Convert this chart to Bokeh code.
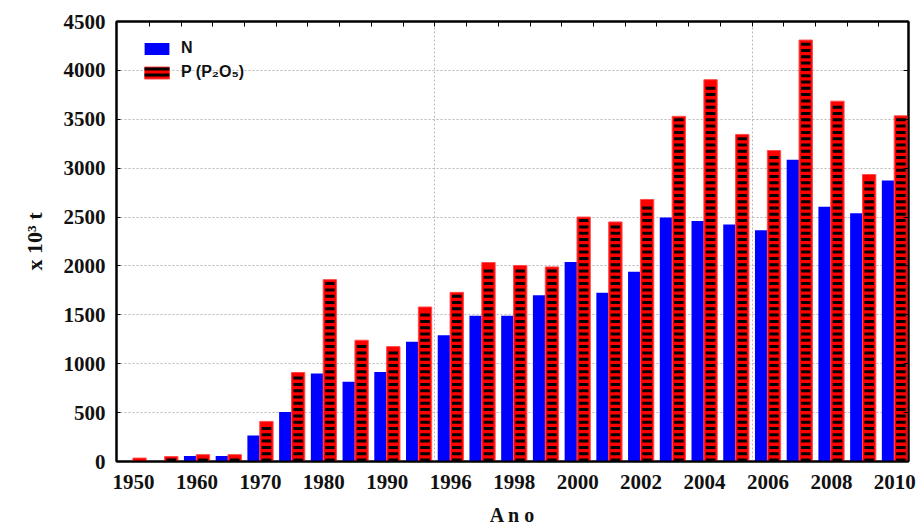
from bokeh.plotting import figure
from bokeh.models import (ColumnDataSource, FixedTicker, LinearAxis, Range1d,
                          Legend, LegendItem)
from bokeh.embed import file_html
from bokeh.resources import INLINE

# ---------------- data ----------------
years = ["1950", "1955", "1960", "1965", "1970", "1975", "1980", "1985", "1990",
         "1995", "1996", "1997", "1998", "1999", "2000", "2001", "2002", "2003",
         "2004", "2005", "2006", "2007", "2008", "2009", "2010"]
n_vals = [0, 0, 55, 55, 265, 505, 900, 815, 915,
          1225, 1290, 1490, 1490, 1700, 2040, 1725, 1940, 2495,
          2460, 2425, 2365, 3085, 2605, 2540, 2875]
p_vals = [35, 50, 70, 70, 410, 910, 1860, 1240, 1175,
          1580, 1730, 2035, 2005, 1990, 2500, 2450, 2680, 3530,
          3905, 3345, 3180, 4310, 3685, 2935, 3535]
label_years = ["1950", "1960", "1970", "1980", "1990", "1996", "1998", "2000",
               "2002", "2004", "2006", "2008", "2010"]
grid_after = ["1995", "2005"]
y_ticks = [0, 500, 1000, 1500, 2000, 2500, 3000, 3500, 4000, 4500]
series_names = ["N", "P (P\u2082O\u2085)"]

# ---------------- layout constants ----------------
FRAME_W, FRAME_H = 792, 440
Y_MAX = 4500
px = Y_MAX / FRAME_H          # data units per screen pixel (vertical)
period, thick, top_gap = 6.3 * px, 3.0 * px, 1.5 * px

# ---------------- sources ----------------
idx = list(range(len(years)))
src = ColumnDataSource(dict(
    xn=[i - 0.215 for i in idx],
    xp=[i + 0.19 for i in idx],
    n=n_vals, p=p_vals))

# black dashes inside the P bars (pattern fill), derived from p_vals
dx, dy = [], []
for i, v in zip(idx, p_vals):
    k = 0
    while True:
        c = k * period + thick / 2
        if c + thick / 2 > v - top_gap:
            break
        dx.append(i + 0.19)
        dy.append(c)
        k += 1
dash_src = ColumnDataSource(dict(x=dx, y=dy))

p = figure(frame_width=FRAME_W, frame_height=FRAME_H,
           x_range=Range1d(-0.536, 24.43), y_range=Range1d(0, Y_MAX),
           output_backend="svg", toolbar_location=None,
           min_border_left=116, min_border_right=15,
           min_border_top=21, min_border_bottom=71,
           background_fill_color="white", border_fill_color="white")

rn = p.vbar(x="xn", top="n", width=0.39, source=src,
            fill_color="#0000ff", line_color=None)
rp = p.vbar(x="xp", top="p", width=0.42, source=src,
            fill_color="#ff0000", line_color="#ff4a4a", line_width=1)
p.rect(x="x", y="y", width=0.30, height=thick, source=dash_src,
       fill_color="black", line_color=None)
# zero-height striped bars: only give the legend swatch its striped look
rh = p.vbar(x="xp", top=0, width=0.30, source=src, fill_alpha=0, line_color=None,
            hatch_pattern="horizontal_line", hatch_color="black",
            hatch_weight=3, hatch_scale=6)

# grids
p.xgrid.ticker = FixedTicker(ticks=[years.index(y) + 0.5 for y in grid_after])
p.ygrid.ticker = FixedTicker(ticks=y_ticks[1:-1])
for g in (p.xgrid, p.ygrid):
    g.grid_line_color = "#b8b8b8"
    g.grid_line_dash = "2 2"
    g.grid_line_width = 1

p.outline_line_color = "black"
p.outline_line_width = 2

serif = "Liberation Serif"

# bottom axis
xa = p.xaxis[0]
label_pos = [years.index(y) for y in label_years]
xa.ticker = FixedTicker(ticks=label_pos)
xa.major_label_overrides = {i: years[i] for i in label_pos}
xa.major_tick_in = 0
xa.major_tick_out = 0
xa.minor_tick_in = 0
xa.minor_tick_out = 0
xa.axis_line_width = 2
xa.axis_line_color = "black"
xa.major_label_standoff = 13
xa.major_label_text_font = serif
xa.major_label_text_font_style = "bold"
xa.major_label_text_font_size = "21px"
xa.major_label_text_color = "#111111"
xa.axis_label = "A n o"
xa.axis_label_text_font = serif
xa.axis_label_text_font_style = "bold"
xa.axis_label_text_font_size = "20px"
xa.axis_label_text_color = "#111111"
xa.axis_label_standoff = 12

# left axis
ya = p.yaxis[0]
ya.ticker = FixedTicker(ticks=y_ticks)
ya.major_tick_in = 4
ya.major_tick_out = 0
ya.minor_tick_in = 0
ya.minor_tick_out = 0
ya.axis_line_width = 2
ya.axis_line_color = "black"
ya.major_label_standoff = 11
ya.major_label_text_font = serif
ya.major_label_text_font_style = "bold"
ya.major_label_text_font_size = "21px"
ya.major_label_text_color = "#111111"
ya.axis_label = "x 10\u00b3 t"
ya.axis_label_text_font = serif
ya.axis_label_text_font_style = "bold"
ya.axis_label_text_font_size = "22px"
ya.axis_label_text_color = "#111111"
ya.axis_label_standoff = 14

# top axis (ticks at group boundaries)
top = LinearAxis(ticker=FixedTicker(ticks=[i + 0.5 for i in idx[:-1]]))
top.major_label_text_color = None
top.major_label_text_font_size = "0px"
top.major_tick_in = 5
top.major_tick_out = 0
top.minor_tick_in = 0
top.minor_tick_out = 0
top.axis_line_width = 2
p.add_layout(top, "above")

# right axis
right = LinearAxis(ticker=FixedTicker(ticks=y_ticks))
right.major_label_text_color = None
right.major_label_text_font_size = "0px"
right.major_tick_in = 5
right.major_tick_out = 0
right.minor_tick_in = 0
right.minor_tick_out = 0
right.axis_line_width = 2
p.add_layout(right, "right")

legend = Legend(items=[LegendItem(label=series_names[0], renderers=[rn]),
                       LegendItem(label=series_names[1], renderers=[rp, rh])],
                location=(25, 380))
legend.glyph_width = 31
legend.glyph_height = 15
legend.label_height = 15
legend.label_standoff = 9
legend.spacing = 6
legend.padding = 0
legend.margin = 0
legend.background_fill_alpha = 0
legend.border_line_color = None
legend.label_text_font = "Liberation Sans"
legend.label_text_font_style = "bold"
legend.label_text_font_size = "16px"
legend.label_text_color = "#111111"
p.add_layout(legend, "center")

open("out.html", "w").write(file_html(p, INLINE))
